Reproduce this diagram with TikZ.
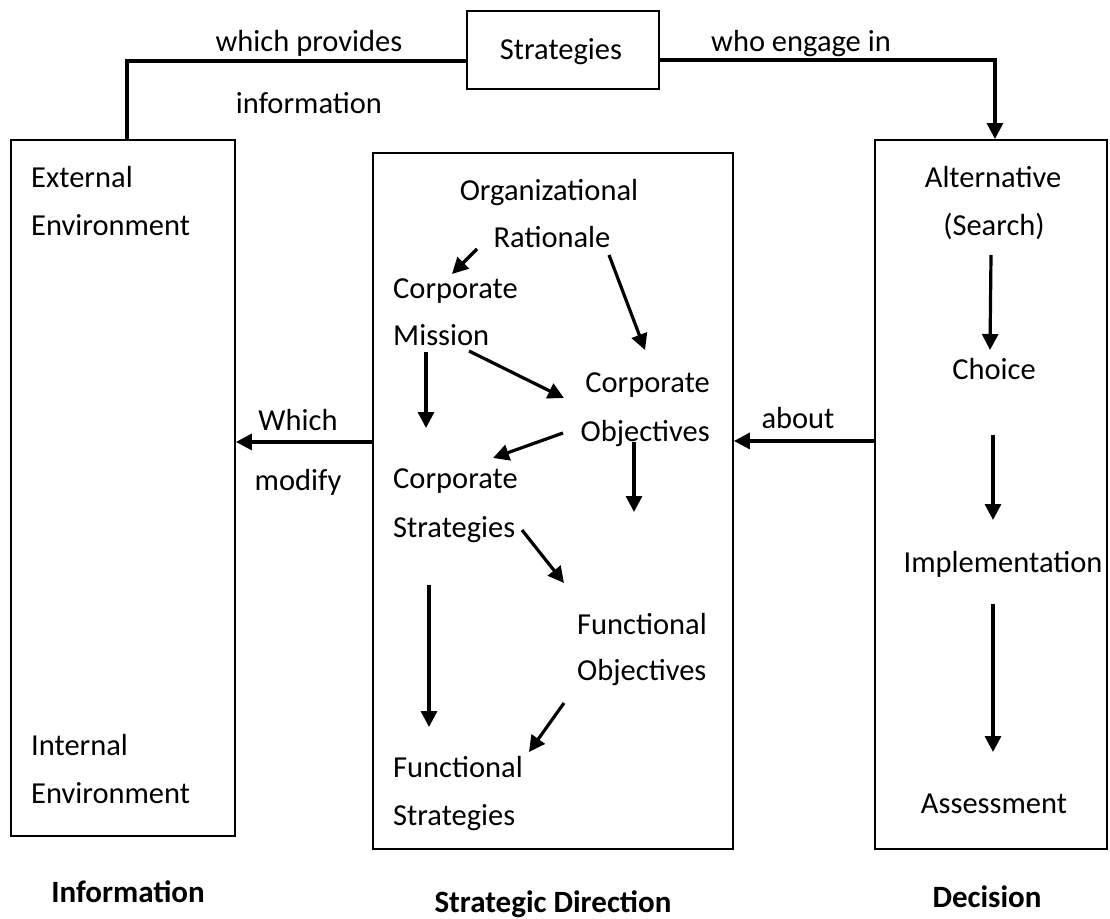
\documentclass[tikz,border=0pt]{standalone}
\usepackage{fontspec}
\setmainfont{Carlito}
\usetikzlibrary{arrows.meta}
\tikzset{
  box/.style={draw, line width=1.9pt, inner sep=0pt, anchor=north west},
  lbl/.style={font=\fontsize{30.5}{36}\selectfont, inner sep=0pt},
  lw/.style={lbl, anchor=base west},
  lc/.style={lbl, anchor=base},
  le/.style={lbl, anchor=base east},
  ttl/.style={font=\fontsize{31}{36}\selectfont\bfseries, inner sep=0pt, anchor=base},
  arr/.style={line width=3.2pt, -{Triangle[length=16pt,width=16pt]}},
  con/.style={line width=3.2pt},
}
\begin{document}
\begin{tikzpicture}[x=1pt,y=-1pt]
\useasboundingbox (0,0) rectangle (1110,918);

% boxes
\node[box, minimum width=192pt, minimum height=78pt] (strat) at (466,10) {};
\node[box, minimum width=224pt, minimum height=696pt] (info) at (10,139) {};
\node[box, minimum width=360pt, minimum height=696pt] (mid) at (372,152) {};
\node[box, minimum width=232pt, minimum height=709pt] (dec) at (874,139) {};

% top texts
\node[lc] (strtxt) at (561,59) {Strategies};
\node[lc] (wp) at (309,51) {which provides};
\node[lc] (infl) at (309,113) {information};
\node[lc] (wei) at (801,51) {who engage in};

% left box
\node[lw] (ext1) at (31,187) {External};
\node[lw] (ext2) at (31,235) {Environment};
\node[lw] (int1) at (31,755) {Internal};
\node[lw] (int2) at (31,803) {Environment};

% middle box
\node[lc] (org1) at (549,200) {Organizational};
\node[lc] (org2) at (552,247) {Rationale};
\node[lw] (cm1) at (393,298) {Corporate};
\node[lw] (cm2) at (393,345) {Mission};
\node[le] (co1) at (710,392) {Corporate};
\node[le] (co2) at (710,441) {Objectives};
\node[lw] (cs1) at (393,488) {Corporate};
\node[lw] (cs2) at (393,537) {Strategies};
\node[lw] (fo1) at (577,634) {Functional};
\node[lw] (fo2) at (577,680) {Objectives};
\node[lw] (fs1) at (393,777) {Functional};
\node[lw] (fs2) at (393,825) {Strategies};

% right box
\node[lc] (alt1) at (993,187) {Alternative};
\node[lc] (alt2) at (994,235) {(Search)};
\node[lc] (cho) at (994,379) {Choice};
\node[lc] (imp) at (1003,572) {Implementation};
\node[lc] (ass) at (994,813) {Assessment};

% side labels
\node[lc] (which) at (298,430) {Which};
\node[lc] (modify) at (298,490) {modify};
\node[lc] (about) at (798,428) {about};

% titles
\node[ttl] (tinfo) at (128,902) {Information};
\node[ttl] (tsd) at (553,912) {Strategic Direction};
\node[ttl] (tdec) at (987,907) {Decision};

% top connectors
\draw[con] ([yshift=-11pt]strat.west) -| ([xshift=4pt]info.north);
\draw[arr] ([yshift=-10pt]strat.east) -| ([xshift=4pt]dec.north);

% horizontal arrows between boxes
\draw[arr] ([yshift=59pt]mid.west) -- ([yshift=59pt]mid.west -| info.east);
\draw[arr] ([yshift=53.5pt]dec.west) -- ([yshift=53.5pt]dec.west -| mid.east);

% arrow end points inside middle box
\coordinate (a1s) at (477,249); \coordinate (a1e) at (452,274);
\coordinate (a2s) at (609,255); \coordinate (a2e) at (645,350);
\coordinate (a3s) at (426,352); \coordinate (a3e) at (426,428);
\coordinate (a4s) at (469,351); \coordinate (a4e) at (564,398);
\coordinate (a5s) at (563,433); \coordinate (a5e) at (493,458);
\coordinate (a6s) at (634,442); \coordinate (a6e) at (634,512);
\coordinate (a7s) at (522,530); \coordinate (a7e) at (564,583);
\coordinate (a8s) at (429,585); \coordinate (a8e) at (429,727);
\coordinate (a9s) at (564,703); \coordinate (a9e) at (529,752);
\draw[arr] (a1s) -- (a1e);
\draw[arr] (a2s) -- (a2e);
\draw[arr] (a3s) -- (a3e);
\draw[arr] (a4s) -- (a4e);
\draw[arr] (a5s) -- (a5e);
\draw[arr] (a6s) -- (a6e);
\draw[arr] (a7s) -- (a7e);
\draw[arr] (a8s) -- (a8e);
\draw[arr] (a9s) -- (a9e);

% right box arrows
\coordinate (b1s) at (991,255); \coordinate (b1e) at (990,350);
\coordinate (b2s) at (993,435); \coordinate (b2e) at (993,520);
\coordinate (b3s) at (993,604); \coordinate (b3e) at (993,752);
\draw[arr] (b1s) -- (b1e);
\draw[arr] (b2s) -- (b2e);
\draw[arr] (b3s) -- (b3e);
\end{tikzpicture}
\end{document}
